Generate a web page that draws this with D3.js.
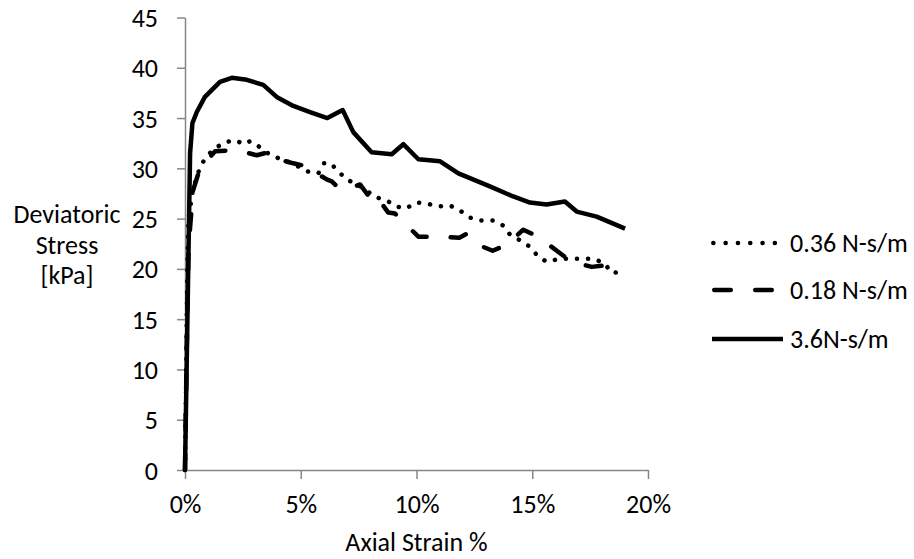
<!DOCTYPE html>
<html>
<head>
<meta charset="utf-8">
<script src="https://cdn.jsdelivr.net/npm/d3@7"></script>
<style>
  body { margin: 0; background: #fff; }
  text { font-family: Carlito, Calibri, "Open Sans", sans-serif; fill: #000; }
</style>
</head>
<body>
<script>
// Series names, in legend order
var series_names = ["0.36 N-s/m", "0.18 N-s/m", "3.6N-s/m"];

// [axial strain %, deviatoric stress kPa]
var s036 = [[0,0],[0.03,5],[0.06,12],[0.1,20],[0.15,25],[0.35,28],[0.66,30.2],[0.94,31.2],[1.3,32.0],
  [1.73,32.6],[2.16,32.8],[2.55,32.4],[2.81,32.7],[3.12,32.3],[3.5,31.6],[3.93,31.1],[4.39,30.7],
  [4.8,30.3],[5.28,29.7],[5.76,29.5],[6.0,30.5],[6.29,30.5],[6.62,29.7],[6.98,28.9],[7.42,28.4],
  [7.8,27.9],[8.16,27.2],[8.71,26.8],[9.14,26.2],[9.55,26.0],[9.98,26.6],[10.44,26.5],[10.94,26.2],
  [11.45,26.3],[11.88,25.8],[12.31,25.1],[12.79,24.8],[13.29,24.8],[13.75,24.3],[14.04,23.4],
  [14.5,22.8],[14.9,22.2],[15.23,21.3],[15.62,20.7],[16.17,21.0],[17.18,21.0],[17.68,21.0],
  [18.14,20.5],[18.43,19.6],[18.9,19.7]];

var s018 = [[0,0],[0.05,8],[0.1,16],[0.15,22],[0.25,25],[0.36,27.9],[0.65,30.0],[1.3,31.7],[2.09,31.8],
  [2.6,31.6],[3.1,31.3],[3.6,31.6],[3.89,31.0],[4.68,30.5],[5.26,30.2],[5.7,29.5],[6.12,28.9],
  [6.34,28.7],[6.7,27.9],[7.1,28.0],[7.56,28.4],[7.85,27.5],[8.06,26.9],[8.28,27.2],[8.78,25.6],
  [9.07,25.5],[9.43,24.7],[10.08,23.2],[10.94,23.2],[11.85,23.1],[12.17,23.5],[12.45,22.6],
  [13.29,21.8],[13.9,22.4],[14.61,23.9],[15.26,23.2],[16.06,21.8],[16.7,20.7],[17.57,20.2],
  [18.29,20.4],[18.43,19.6]];

var s36 = [[0,0],[0.22,31.5],[0.32,34.5],[0.51,35.6],[0.86,37.1],[1.51,38.6],[2.02,39.0],[2.67,38.8],
  [3.38,38.3],[3.96,37.1],[4.68,36.2],[5.4,35.6],[6.15,35.0],[6.81,35.8],[7.27,33.6],[8.06,31.6],
  [8.93,31.4],[9.43,32.4],[10.08,30.9],[11.02,30.7],[11.81,29.5],[13.17,28.2],[14.18,27.2],
  [14.9,26.6],[15.62,26.4],[16.41,26.7],[16.92,25.7],[17.78,25.2],[19.01,24.0]];

var x_ticks = [0, 5, 10, 15, 20];
var y_ticks = [0, 5, 10, 15, 20, 25, 30, 35, 40, 45];

var all_series = [s036, s018, s36];
var dashes = ["0.1 11", "16 24", null];
var legend_dashes = ["0.1 12.2", "16.5 24.5", null];

var font_size = "26px";

var width = 914, height = 559;
var svg = d3.select("body").append("svg")
    .attr("width", width)
    .attr("height", height);

// Plot area
var x = d3.scaleLinear().domain([0, 20]).range([185, 648]);
var y = d3.scaleLinear().domain([0, 45]).range([470, 17.5]);

// Axes
var xAxis = svg.append("g")
    .attr("transform", "translate(0," + y(0) + ")")
    .call(d3.axisBottom(x).tickValues(x_ticks).tickSize(9).tickSizeOuter(0)
      .tickFormat(function(d) { return d + "%"; }));

var yAxis = svg.append("g")
    .attr("transform", "translate(" + x(0) + ",0)")
    .call(d3.axisLeft(y).tickValues(y_ticks).tickSize(8).tickSizeOuter(0));

[xAxis, yAxis].forEach(function(a) {
  a.select(".domain").attr("stroke", "#878787").attr("stroke-width", 1.5);
  a.selectAll(".tick line").attr("stroke", "#878787").attr("stroke-width", 1.5);
  a.selectAll(".tick text").style("font-size", font_size).attr("fill", "#000");
});
xAxis.selectAll(".tick text").attr("dy", null).attr("y", 43);
yAxis.selectAll(".tick text").attr("x", -27).attr("dy", "0.35em");

// Axis titles
svg.append("text")
    .attr("x", x(10)).attr("y", 551)
    .attr("text-anchor", "middle")
    .style("font-size", font_size)
    .text("Axial Strain %");

var ytitle = ["Deviatoric", "Stress", "[kPa]"];
svg.selectAll("text.ytitle")
  .data(ytitle)
  .enter().append("text")
    .attr("class", "ytitle")
    .attr("x", 67)
    .attr("y", function(d, i) { return 214 + i * 30.5; })
    .attr("dy", "0.35em")
    .attr("text-anchor", "middle")
    .style("font-size", font_size)
    .text(function(d) { return d; });

// Lines
var line = d3.line()
    .x(function(d) { return x(d[0]); })
    .y(function(d) { return y(d[1]); });

svg.selectAll("path.series")
  .data(all_series)
  .enter().append("path")
    .attr("class", "series")
    .attr("d", line)
    .attr("fill", "none")
    .attr("stroke", "#000")
    .attr("stroke-width", 4.5)
    .attr("stroke-linejoin", "round")
    .attr("stroke-linecap", function(d, i) { return i < 2 ? "round" : "butt"; })
    .attr("stroke-dasharray", function(d, i) { return dashes[i]; });

// Legend
var legend_y = [243, 290, 339];
var lg = svg.selectAll("g.legend")
  .data(series_names)
  .enter().append("g")
    .attr("class", "legend")
    .attr("transform", function(d, i) { return "translate(0," + legend_y[i] + ")"; });

lg.append("line")
    .attr("x1", function(d, i) { return i == 0 ? 713.3 : (i == 1 ? 714.25 : 712); })
    .attr("x2", function(d, i) { return i < 2 ? 775 : 783; })
    .attr("stroke", "#000")
    .attr("stroke-width", 4.5)
    .attr("stroke-linecap", function(d, i) { return i < 2 ? "round" : "butt"; })
    .attr("stroke-dasharray", function(d, i) { return legend_dashes[i]; });

lg.append("text")
    .attr("x", 790)
    .attr("dy", "0.35em")
    .style("font-size", font_size)
    .text(function(d) { return d; });
</script>
</body>
</html>
